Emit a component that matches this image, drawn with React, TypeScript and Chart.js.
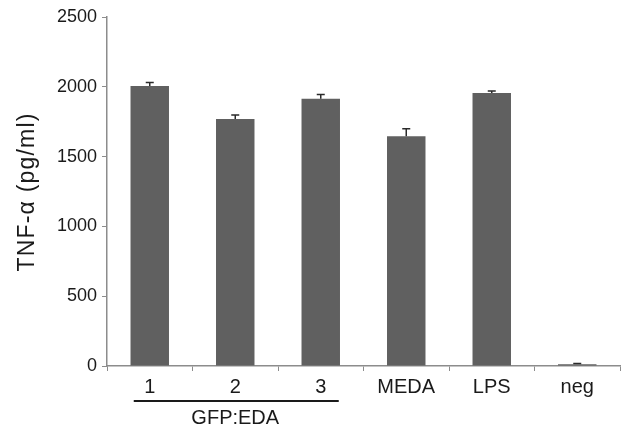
import React, { useEffect, useRef } from "react";
import { Chart, registerables } from "chart.js";

Chart.register(...registerables);

const categories = ["1", "2", "3", "MEDA", "LPS", "neg"];
const values = [2005, 1770, 1915, 1645, 1955, 12];
const errors = [25, 28, 30, 55, 15, 6];
const yTicks = [0, 500, 1000, 1500, 2000, 2500];
const yTitle = "TNF-α (pg/ml)";
const groupLabel = "GFP:EDA";
const groupMembers = [0, 1, 2];

const FONT = "'Liberation Sans', Arial, sans-serif";

const errorBarPlugin = {
  id: "errorBars",
  afterDatasetsDraw(chart: any) {
    const ctx = chart.ctx;
    const meta = chart.getDatasetMeta(0);
    const y = chart.scales.y;
    ctx.save();
    ctx.strokeStyle = "#2a2a2a";
    ctx.lineWidth = 1.5;
    meta.data.forEach((bar: any, i: number) => {
      const top = y.getPixelForValue(values[i]);
      const hi = y.getPixelForValue(values[i] + errors[i]);
      ctx.beginPath();
      ctx.moveTo(bar.x, top);
      ctx.lineTo(bar.x, hi);
      ctx.moveTo(bar.x - 4, hi);
      ctx.lineTo(bar.x + 4, hi);
      ctx.stroke();
    });
    ctx.restore();
  },
};

const annotationPlugin = {
  id: "annots",
  afterDraw(chart: any) {
    const ctx = chart.ctx;
    const x = chart.scales.x;
    const area = chart.chartArea;
    ctx.save();
    ctx.fillStyle = "#1a1a1a";
    ctx.font = `23px ${FONT}`;
    (ctx as any).letterSpacing = "1.2px";
    ctx.textAlign = "center";
    ctx.textBaseline = "middle";
    ctx.translate(28, 192);
    ctx.rotate(-Math.PI / 2);
    ctx.fillText(yTitle, 0, 0);
    ctx.restore();

    ctx.save();
    const first = x.getPixelForValue(groupMembers[0]);
    const last = x.getPixelForValue(groupMembers[groupMembers.length - 1]);
    const lineY = area.bottom + 35;
    ctx.strokeStyle = "#1a1a1a";
    ctx.lineWidth = 2;
    ctx.beginPath();
    ctx.moveTo(first - 16, lineY);
    ctx.lineTo(last + 18, lineY);
    ctx.stroke();
    ctx.fillStyle = "#1a1a1a";
    ctx.font = `20px ${FONT}`;
    ctx.textAlign = "center";
    ctx.textBaseline = "middle";
    ctx.fillText(groupLabel, (first + last) / 2, lineY + 17);
    ctx.restore();
  },
};

export default function App() {
  const ref = useRef<HTMLCanvasElement>(null);
  useEffect(() => {
    if (!ref.current) return;
    const chart = new Chart(ref.current, {
      type: "bar",
      data: {
        labels: categories,
        datasets: [
          {
            data: values,
            backgroundColor: "#606060",
            borderWidth: 0,
            categoryPercentage: 1,
            barPercentage: 0.45,
          },
        ],
      },
      options: {
        responsive: false,
        animation: false,
        layout: { padding: { top: 17, right: 1, left: 0, bottom: 0 } },
        plugins: { legend: { display: false }, tooltip: { enabled: false } },
        scales: {
          x: {
            grid: {
              drawOnChartArea: false,
              drawTicks: true,
              tickLength: 5,
              color: "#8c8c8c",
              offset: true,
            },
            border: { color: "#8c8c8c", width: 1.5 },
            ticks: {
              color: "#1a1a1a",
              font: { family: FONT, size: 20 },
              padding: 4,
              maxRotation: 0,
            },
            afterFit(scale: any) {
              scale.height = 65;
            },
          },
          y: {
            min: 0,
            max: 2500,
            afterBuildTicks(scale: any) {
              scale.ticks = yTicks.map((v) => ({ value: v }));
            },
            grid: {
              drawOnChartArea: false,
              drawTicks: true,
              tickLength: 5,
              color: "#8c8c8c",
            },
            border: { color: "#8c8c8c", width: 1.5 },
            ticks: {
              color: "#1a1a1a",
              font: { family: FONT, size: 18 },
              padding: 5,
              callback: (v: any) => String(v),
            },
            afterFit(scale: any) {
              scale.width = 107;
            },
          },
        },
      },
      plugins: [errorBarPlugin, annotationPlugin],
    });
    return () => chart.destroy();
  }, []);
  return (
    <div style={{ position: "absolute", left: 0, top: 0, width: 621, height: 431, background: "#fff" }}>
      <canvas ref={ref} width={621} height={431} />
    </div>
  );
}
